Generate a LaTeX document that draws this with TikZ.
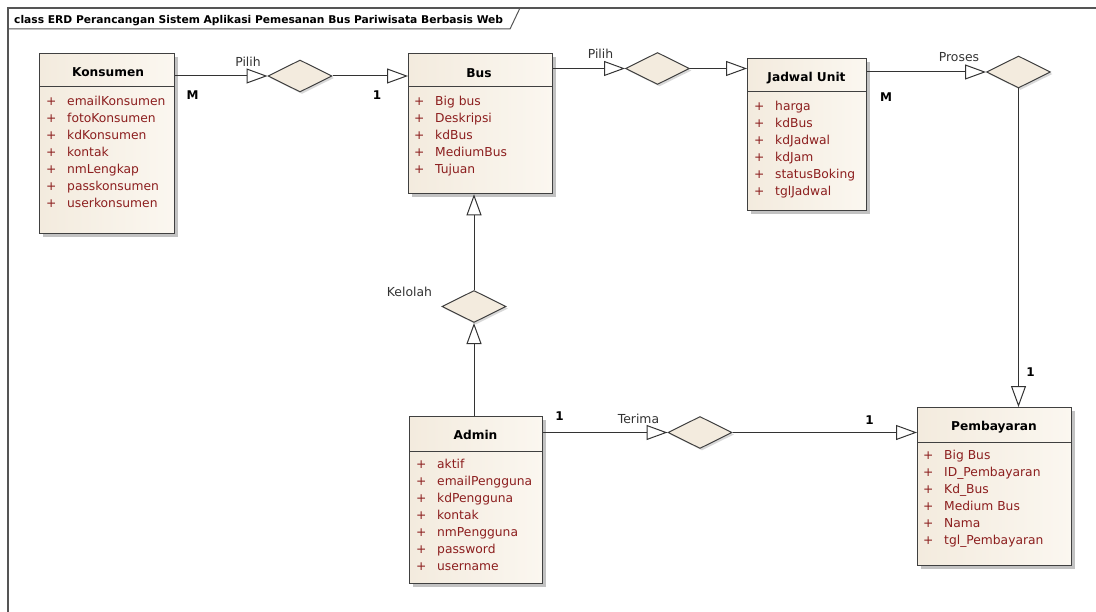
\documentclass[tikz,border=0pt]{standalone}
\usepackage{fontspec}
\setmainfont{DejaVu Sans}
\usetikzlibrary{shapes.geometric,arrows.meta,shadows}

\definecolor{attrred}{RGB}{140,30,30}
\definecolor{entfill}{RGB}{243,235,222}
\definecolor{entlight}{RGB}{251,247,240}
\definecolor{framegray}{RGB}{85,85,85}

\newcommand{\attrline}[1]{\makebox[21bp][l]{+}\vphantom{lg}#1}

\tikzset{
  entity/.style={draw=black!75, line width=1.3bp, left color=entfill, right color=entlight,
    anchor=north west, inner sep=0pt,
    drop shadow={shadow xshift=3bp, shadow yshift=-3bp, fill=black!40, opacity=0.6}},
  enttitle/.style={anchor=base, inner sep=0pt, font=\fontsize{12.2bp}{14bp}\selectfont\bfseries},
  attrs/.style={anchor=north west, inner sep=0pt, align=left, text=attrred,
    font=\fontsize{12.3bp}{17bp}\selectfont},
  relship/.style={diamond, draw=black!75, line width=1bp, fill=entfill, inner sep=0pt,
    minimum width=64bp, minimum height=32bp,
    drop shadow={shadow xshift=2bp, shadow yshift=-2bp, fill=black!30, opacity=0.5}},
  rel/.style={draw=black!80, line width=1bp, -{Triangle[length=21bp,width=15bp,fill=white]}},
  lbl/.style={anchor=base, inner sep=0pt, text=black!80, font=\fontsize{12.4bp}{14bp}\selectfont},
  mult/.style={anchor=base, inner sep=0pt, font=\fontsize{12bp}{14bp}\selectfont\bfseries}
}

\begin{document}
\begin{tikzpicture}[x=1bp,y=-1bp]
  \useasboundingbox (0,0) rectangle (1096,612);
  % frame
  \draw[framegray, line width=1.6bp] (8,612) -- (8,8) -- (1096,8);
  \draw[framegray, line width=1bp] (8,29) -- (510,29) -- (520,8);
  \node[anchor=base west, inner sep=0pt, font=\fontsize{10.7bp}{14bp}\selectfont\bfseries] at (14,24) (frametitle)
    {class ERD Perancangan Sistem Aplikasi Pemesanan Bus Pariwisata Berbasis Web};

  % entities
  \node[entity, minimum width=135bp, minimum height=180bp] at (39,53) (konsumen) {};
  \draw[black!75, line width=1bp] ([yshift=-34bp]konsumen.north west) -- ([yshift=-34bp]konsumen.north east);
  \node[enttitle] at (108,77) (konsumenName) {Konsumen};
  \node[attrs] at (46,96) (konsumenAttr) {\attrline{emailKonsumen}\\ \attrline{fotoKonsumen}\\
    \attrline{kdKonsumen}\\ \attrline{kontak}\\ \attrline{nmLengkap}\\ \attrline{passkonsumen}\\
    \attrline{userkonsumen}};

  \node[entity, minimum width=144bp, minimum height=140bp] at (408,53) (bus) {};
  \draw[black!75, line width=1bp] ([yshift=-34bp]bus.north west) -- ([yshift=-34bp]bus.north east);
  \node[enttitle] at (479,78) (busName) {Bus};
  \node[attrs] at (414,96) (busAttr) {\attrline{Big bus}\\ \attrline{Deskripsi}\\
    \attrline{kdBus}\\ \attrline{MediumBus}\\ \attrline{Tujuan}};

  \node[entity, minimum width=119bp, minimum height=152bp] at (747,58) (jadwal) {};
  \draw[black!75, line width=1bp] ([yshift=-34bp]jadwal.north west) -- ([yshift=-34bp]jadwal.north east);
  \node[enttitle] at (806.5,82) (jadwalName) {Jadwal Unit};
  \node[attrs] at (754,101) (jadwalAttr) {\attrline{harga}\\ \attrline{kdBus}\\
    \attrline{kdJadwal}\\ \attrline{kdJam}\\ \attrline{statusBoking}\\ \attrline{tglJadwal}};

  \node[entity, minimum width=133bp, minimum height=167bp] at (409,416) (admin) {};
  \draw[black!75, line width=1bp] ([yshift=-35bp]admin.north west) -- ([yshift=-35bp]admin.north east);
  \node[enttitle] at (475.5,439) (adminName) {Admin};
  \node[attrs] at (416,459) (adminAttr) {\attrline{aktif}\\ \attrline{emailPengguna}\\
    \attrline{kdPengguna}\\ \attrline{kontak}\\ \attrline{nmPengguna}\\ \attrline{password}\\
    \attrline{username}};

  \node[entity, minimum width=154bp, minimum height=158bp] at (917,407) (pembayaran) {};
  \draw[black!75, line width=1bp] ([yshift=-35bp]pembayaran.north west) -- ([yshift=-35bp]pembayaran.north east);
  \node[enttitle] at (994,430) (pembayaranName) {Pembayaran};
  \node[attrs] at (923,450) (pembayaranAttr) {\attrline{Big Bus}\\ \attrline{ID\_Pembayaran}\\
    \attrline{Kd\_Bus}\\ \attrline{Medium Bus}\\ \attrline{Nama}\\ \attrline{tgl\_Pembayaran}};

  % relationships
  \node[relship] at (300,76) (pilihA) {};
  \node[relship] at (657.5,68.5) (pilihB) {};
  \node[relship] at (1018.5,72) (proses) {};
  \node[relship] at (474,306.5) (kelolah) {};
  \node[relship] at (700,432.5) (terima) {};

  \draw[rel] (konsumen.east |- pilihA.west) -- (pilihA.west);
  \draw[rel] (pilihA.east) -- (pilihA.east -| bus.west);
  \draw[rel] (bus.east |- pilihB.west) -- (pilihB.west);
  \draw[rel] (pilihB.east) -- (pilihB.east -| jadwal.west);
  \draw[rel] (jadwal.east |- proses.west) -- (proses.west);
  \draw[rel] (proses.south) -- (proses.south |- pembayaran.north);
  \draw[rel] (kelolah.south |- admin.north) -- (kelolah.south);
  \draw[rel] (kelolah.north) -- (kelolah.north |- bus.south);
  \draw[rel] (admin.east |- terima.west) -- (terima.west);
  \draw[rel] (terima.east) -- (terima.east -| pembayaran.west);

  % labels
  \node[lbl] at (248,67) (pilihAlbl) {Pilih};
  \node[lbl] at (600.5,59) (pilihBlbl) {Pilih};
  \node[lbl] at (959,62) (proseslbl) {Proses};
  \node[lbl] at (409.5,297) (kelolahlbl) {Kelolah};
  \node[lbl] at (638.5,423) (terimalbl) {Terima};
  \node[mult] at (192.5,100) (konsumenM) {M};
  \node[mult] at (377,100) (busOne) {1};
  \node[mult] at (886,102) (jadwalM) {M};
  \node[mult] at (1030.5,376) (pembayaranOneA) {1};
  \node[mult] at (559.5,420) (adminOne) {1};
  \node[mult] at (869.5,424) (pembayaranOneB) {1};
\end{tikzpicture}
\end{document}
